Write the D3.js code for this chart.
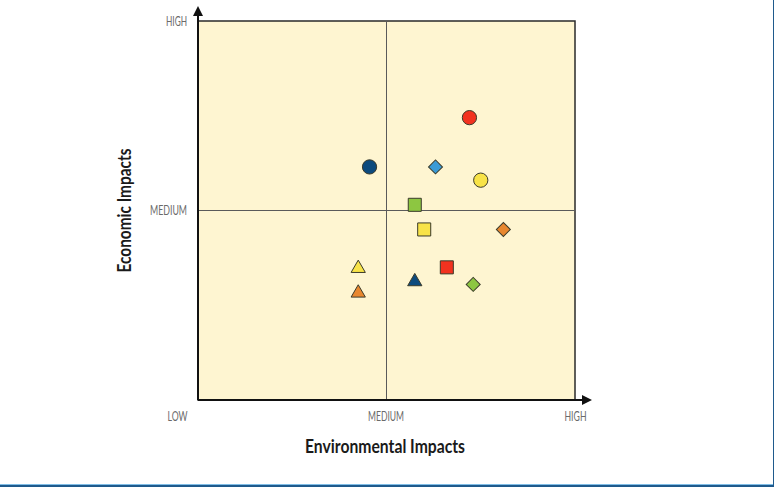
<!DOCTYPE html>
<html>
<head>
<meta charset="utf-8">
<script src="https://cdn.jsdelivr.net/npm/d3@7"></script>
<style>
  html, body { margin: 0; padding: 0; background: #ffffff; }
  svg { display: block; }
  text { font-family: Lato, "Open Sans", sans-serif; }
</style>
</head>
<body>
<div id="chart"></div>
<script>
// ---- data (scale: 0 = LOW, 1 = MEDIUM, 2 = HIGH) ----
const xTickLabels = ["LOW", "MEDIUM", "HIGH"];
const yTickLabels = ["MEDIUM", "HIGH"];
const xTitle = "Environmental Impacts";
const yTitle = "Economic Impacts";

const shapes  = ["circle", "circle", "diamond", "circle", "square", "square", "diamond", "triangle", "triangle", "triangle", "square", "diamond"];
const colors  = ["#f2321f", "#0c4a7d", "#3b9bd6", "#f8e348", "#8dc641", "#f8e348", "#e8872f", "#f8e348", "#e8872f", "#0c4a7d", "#f2321f", "#8dc641"];
const envVals = [1.44, 0.91, 1.26, 1.50, 1.15, 1.20, 1.62, 0.85, 0.85, 1.15, 1.32, 1.46];
const ecoVals = [1.49, 1.23, 1.23, 1.16, 1.03, 0.90, 0.90, 0.70, 0.57, 0.63, 0.70, 0.61];

// ---- layout ----
const W = 774, H = 490;
const x0 = 198, x1 = 575, y0 = 400, y1 = 21;
const xTickWidths = [20, 36, 22];
const yTickWidths = [37, 21];

const svg = d3.select("#chart").append("svg").attr("width", W).attr("height", H);

const x = d3.scaleLinear().domain([0, 2]).range([x0, x1]);
const y = d3.scaleLinear().domain([0, 2]).range([y0, y1]);

// frame of the page
svg.append("line").attr("x1", 0).attr("x2", W).attr("y1", 484.5).attr("y2", 484.5)
  .attr("stroke", "#7fbde6").attr("stroke-width", 1);
svg.append("line").attr("x1", 0).attr("x2", W).attr("y1", 486).attr("y2", 486)
  .attr("stroke", "#1f5a8c").attr("stroke-width", 2);
svg.append("line").attr("x1", 773.5).attr("x2", 773.5).attr("y1", 0).attr("y2", 486)
  .attr("stroke", "#1f5a8c").attr("stroke-width", 1);

// plot background
svg.append("rect")
  .attr("x", x(0)).attr("y", y(2))
  .attr("width", x(2) - x(0)).attr("height", y(0) - y(2))
  .attr("fill", "#fef5d1").attr("stroke", "#2a2a2a").attr("stroke-width", 1.5);

// medium cross lines
svg.append("line").attr("x1", x(1)).attr("x2", x(1)).attr("y1", y(2)).attr("y2", y(0))
  .attr("stroke", "#5a5a5a").attr("stroke-width", 1);
svg.append("line").attr("x1", x(0)).attr("x2", x(2)).attr("y1", y(1)).attr("y2", y(1))
  .attr("stroke", "#5a5a5a").attr("stroke-width", 1);

// main axes with arrows
svg.append("line").attr("x1", x(0)).attr("x2", x(0)).attr("y1", y(0)).attr("y2", 14)
  .attr("stroke", "#111").attr("stroke-width", 2);
svg.append("path").attr("d", `M${x(0) - 5},16 L${x(0)},6 L${x(0) + 5},16 Z`).attr("fill", "#111");
svg.append("line").attr("x1", x(0)).attr("x2", 584).attr("y1", y(0)).attr("y2", y(0))
  .attr("stroke", "#111").attr("stroke-width", 2);
svg.append("path").attr("d", `M582,${y(0) - 5} L592,${y(0)} L582,${y(0) + 5} Z`).attr("fill", "#111");

// x tick labels via axis
const xAxis = d3.axisBottom(x).tickValues([0, 1, 2]).tickSize(0).tickPadding(0)
  .tickFormat((d, i) => xTickLabels[i]);
const gx = svg.append("g").attr("transform", `translate(0,${y0 + 11})`).call(xAxis);
gx.select(".domain").remove();
gx.selectAll("text").attr("font-size", 13.5).attr("fill", "#6a6a6a")
  .attr("dx", (d, i) => i === 0 ? -21 : (i === 1 ? -1 : 0))
  .attr("textLength", (d, i) => xTickWidths[i]).attr("lengthAdjust", "spacingAndGlyphs")
  .style("font-family", 'Lato, "Open Sans", sans-serif');

// y tick labels via axis
const yAxis = d3.axisLeft(y).tickValues([1, 2]).tickSize(0).tickPadding(11)
  .tickFormat((d, i) => yTickLabels[i]);
const gy = svg.append("g").attr("transform", `translate(${x0},0)`).call(yAxis);
gy.select(".domain").remove();
gy.selectAll("text").attr("font-size", 13.5).attr("fill", "#6a6a6a")
  .attr("textLength", (d, i) => yTickWidths[i]).attr("lengthAdjust", "spacingAndGlyphs")
  .style("font-family", 'Lato, "Open Sans", sans-serif');

// titles
svg.append("text").attr("x", 385).attr("y", 453).attr("text-anchor", "middle")
  .attr("font-size", 18.5).attr("font-weight", "bold").attr("fill", "#1a1a1a")
  .attr("textLength", 160).attr("lengthAdjust", "spacingAndGlyphs").text(xTitle);
svg.append("text").attr("transform", `translate(131,${y(1)}) rotate(-90)`).attr("text-anchor", "middle")
  .attr("font-size", 18.5).attr("font-weight", "bold").attr("fill", "#1a1a1a")
  .attr("textLength", 124).attr("lengthAdjust", "spacingAndGlyphs").text(yTitle);

// points
const symbolFor = {
  circle: d3.symbol().type(d3.symbolCircle).size(160),
  square: d3.symbol().type(d3.symbolSquare).size(170),
  diamond: d3.symbol().type(d3.symbolSquare).size(98),
  triangle: d3.symbol().type(d3.symbolTriangle).size(88)
};
const pts = shapes.map((s, i) => ({ shape: s, color: colors[i], ex: envVals[i], ey: ecoVals[i] }));
svg.append("g").selectAll("path").data(pts).join("path")
  .attr("d", d => symbolFor[d.shape]())
  .attr("transform", d => `translate(${x(d.ex)},${y(d.ey)})` + (d.shape === "diamond" ? " rotate(45)" : "") + (d.shape === "triangle" ? " translate(0,1)" : ""))
  .attr("fill", d => d.color)
  .attr("stroke", "#3a3a2a").attr("stroke-width", 1);
</script>
</body>
</html>
